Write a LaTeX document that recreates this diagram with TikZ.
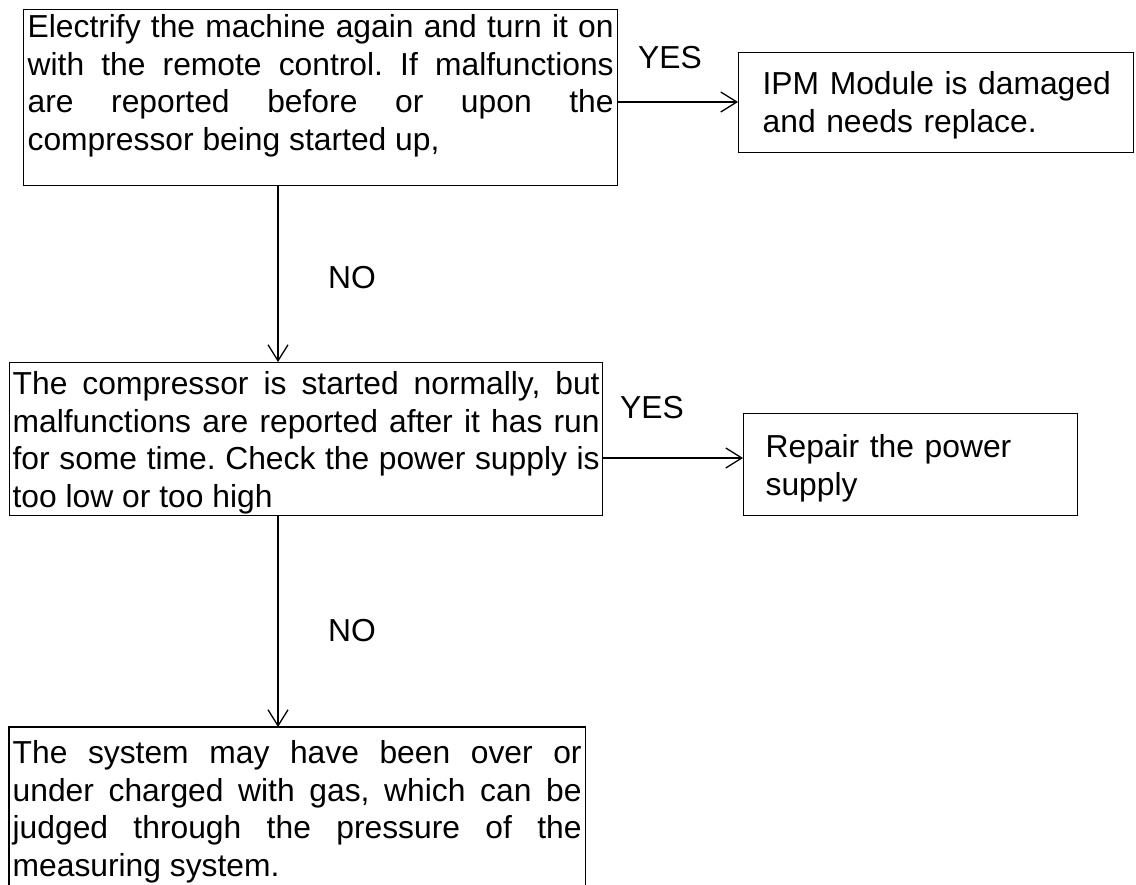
\documentclass[tikz,border=0pt]{standalone}
\usepackage{fontspec}
\setmainfont{Liberation Sans}
\usetikzlibrary{arrows.meta}
\newcommand\fsz{\fontsize{31.8pt}{37.5pt}\selectfont}
\newcommand\bxt[3]{\frenchspacing\tolerance=10000\hyphenpenalty=10000\rule{0pt}{#1pt}#3\rule[-#2pt]{0pt}{0pt}}
\begin{document}
\begin{tikzpicture}[x=1pt,y=-1pt,
  box/.style={draw, line width=1.3pt, inner xsep=4pt, inner ysep=0pt, anchor=north west, align=justify, font=\fsz},
  lab/.style={inner sep=0pt, font=\fsz, anchor=base},
  arr/.style={line width=1.3pt, -{Straight Barb[length=16pt,width=20pt]}}]
\useasboundingbox (0,0) rectangle (1136,885);
\fill[white] (0,0) rectangle (1136,885);

\node[box, text width=586pt] (b1) at (23,9) {\bxt{28}{35.5}{Electrify the machine again and turn it on\linebreak with the remote control. If malfunctions\linebreak are reported before or upon the\linebreak compressor being started up,}};

\node[box, text width=387pt, align=left] (b2) at (738,52) {\bxt{42}{20.5}{\hspace*{20pt}IPM Module is damaged\\\hspace*{20pt}and needs replace.}};

\node[box, inner xsep=3pt, text width=587pt] (b3) at (9,362) {\bxt{32}{8.5}{The compressor is started normally, but\linebreak malfunctions are reported after it has run\linebreak for some time. Check the power supply is\linebreak too low or too high}};

\node[box, text width=326pt, align=left] (b4) at (743,413) {\bxt{44}{20.5}{\hspace*{18pt}Repair the power\\\hspace*{18pt}supply}};

\node[box, draw=none, inner xsep=3pt, text width=569pt] (b5) at (9,727) {\bxt{36}{19.5}{The system may have been over or\linebreak under charged with gas, which can be\linebreak judged through the pressure of the\linebreak measuring system.}};
\draw[line width=1.3pt] (b5.south west) -- (b5.north west) -- (b5.north east) -- (b5.south east);

\coordinate (r1) at (0,102);
\coordinate (r2) at (0,458);
\coordinate (c1) at (278,0);
\draw[arr] (b1.east |- r1) -- (b2.west |- r1);
\draw[arr] (b3.east |- r2) -- (b4.west |- r2);
\draw[arr] (b1.south -| c1) -- (b3.north -| c1);
\draw[arr] (b3.south -| c1) -- (b5.north -| c1);

\node[lab] (yes1) at (670,69) {YES};
\node[lab] (yes2) at (652,418) {YES};
\node[lab] (no1) at (352,289) {NO};
\node[lab] (no2) at (352,641) {NO};
\end{tikzpicture}
\end{document}
